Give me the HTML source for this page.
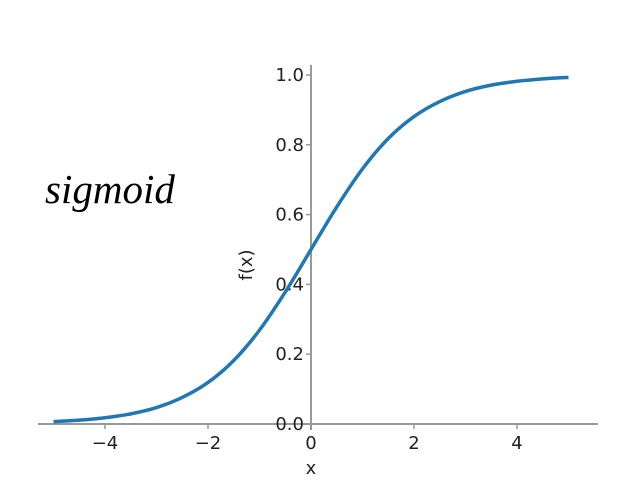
<!DOCTYPE html>
<html><head><meta charset="utf-8"><style>
body{margin:0;background:#fff;width:623px;height:485px;overflow:hidden}
svg{display:block}
text{font-family:"DejaVu Sans","Liberation Sans",sans-serif;fill:#222}
</style></head><body>
<svg id="chart" width="623" height="485" viewBox="0 0 623 485">
<text x="45" y="203" style="font-family:'Liberation Serif',serif;font-style:italic;font-size:41px;fill:#000">sigmoid</text>
<g id="axes"></g>
<path id="curve" fill="none" stroke="#1f77b4" stroke-width="3.5"/>
<text x="311" y="474" text-anchor="middle" font-size="18">x</text>
<text transform="translate(252,265) rotate(-90)" text-anchor="middle" font-size="18">f(x)</text>
</svg>
<script>
const xs=[-5,-4.5,-4,-3.5,-3,-2.5,-2,-1.5,-1,-0.5,0,0.5,1,1.5,2,2.5,3,3.5,4,4.5,5];
const ys=[0.0067,0.011,0.018,0.029,0.047,0.076,0.119,0.182,0.269,0.378,0.5,0.622,0.731,0.818,0.881,0.924,0.953,0.971,0.982,0.989,0.9933];
const xTicks=[-4,-2,0,2,4];
const yTicks=[0.0,0.2,0.4,0.6,0.8,1.0];
const X=v=>311+v*51.5, Y=v=>424-v*349;
const ns="http://www.w3.org/2000/svg", ax=document.getElementById('axes');
function mk(t,a){const e=document.createElementNS(ns,t);for(const k in a)e.setAttribute(k,a[k]);ax.appendChild(e);return e;}
let l=mk('line',{x1:38,x2:598,y1:424,y2:424,stroke:'#999','stroke-width':2});


l=mk('line',{x1:311,x2:311,y1:65,y2:430,stroke:'#999','stroke-width':2});


xTicks.forEach(v=>{
 const t=mk('line',{x1:X(v),x2:X(v),y1:424,y2:429,stroke:'#999','stroke-width':1.5});
 
 
 const s=mk('text',{x:X(v),y:449,'text-anchor':'middle','font-size':18});
 s.textContent=v<0?'\u2212'+(-v):String(v);
 
 
});
yTicks.forEach(v=>{
 const t=mk('line',{x1:306,x2:311,y1:Y(v),y2:Y(v),stroke:'#999','stroke-width':1.5});
 
 
 const s=mk('text',{x:304,y:Y(v)+6,'text-anchor':'end','font-size':18});
 s.textContent=v.toFixed(1);
 
 
});
const P=xs.map((x,i)=>[X(x),Y(ys[i])]);
let d='M'+P[0][0]+','+P[0][1];
for(let i=0;i<P.length-1;i++){
 const p0=P[Math.max(i-1,0)],p1=P[i],p2=P[i+1],p3=P[Math.min(i+2,P.length-1)];
 const c1=[p1[0]+(p2[0]-p0[0])/6,p1[1]+(p2[1]-p0[1])/6];
 const c2=[p2[0]-(p3[0]-p1[0])/6,p2[1]-(p3[1]-p1[1])/6];
 d+='C'+c1.join(',')+' '+c2.join(',')+' '+p2.join(',');
}
document.getElementById('curve').setAttribute('d',d);
</script>
</body></html>
